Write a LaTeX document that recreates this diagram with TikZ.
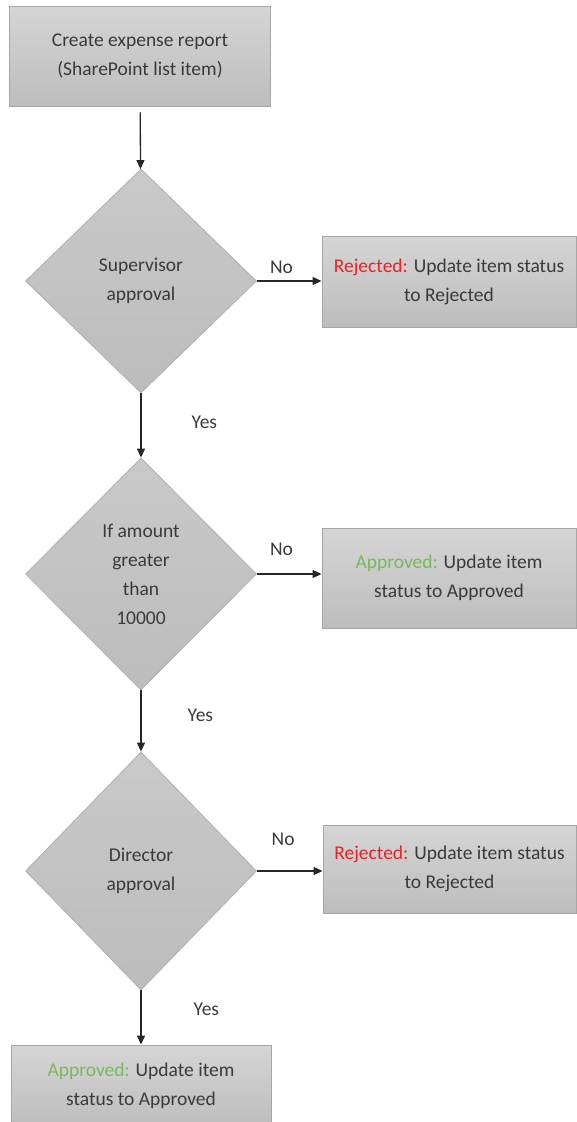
\documentclass[tikz,border=0pt]{standalone}
\usepackage{fontspec}
\setmainfont{Carlito}
\usepackage{tikz}
\usetikzlibrary{arrows.meta,positioning,shapes.geometric}
\usepackage{xcolor}
\definecolor{boxtop}{HTML}{D5D5D5}
\definecolor{boxbot}{HTML}{BDBDBD}
\definecolor{boxedge}{HTML}{A6A6A6}
\definecolor{dectop}{HTML}{C9C9C9}
\definecolor{decbot}{HTML}{BCBCBC}
\definecolor{decedge}{HTML}{B0B0B0}
\definecolor{inktext}{HTML}{3A3A3A}
\definecolor{rejred}{HTML}{E52328}
\definecolor{apprgreen}{HTML}{7AB85C}

\begin{document}
\begin{tikzpicture}[x=1pt,y=-1pt,>={Triangle[length=9pt,width=8pt]},
  every node/.style={font=\fontsize{19.5}{29}\selectfont,text=inktext},
  box/.style={draw=boxedge,line width=0.9pt,top color=boxtop,bottom color=boxbot,align=center,inner sep=0pt},
  decision/.style={diamond,draw=decedge,line width=0.8pt,top color=dectop,bottom color=decbot,align=center,inner sep=0pt,minimum width=231pt},
  lbl/.style={inner sep=0pt},
  flow/.style={->,draw=black!85,line width=1.3pt}]
  \useasboundingbox (0,0) rectangle (576,1122);
  \node[box,minimum width=261pt,minimum height=100pt] (report) at (140,56) {Create expense report\\(SharePoint list item)};
  \node[decision,minimum height=224pt] (superv) at (141,281) {Supervisor\\approval};
  \node[box,minimum width=254pt,minimum height=91pt] (rejA) at (449,281.5) {\textcolor{rejred}{Rejected:} Update item status\\to Rejected};
  \node[decision,minimum height=232pt] (amount) at (141,574) {If amount\\greater\\than\\10000};
  \node[box,minimum width=254pt,minimum height=100pt] (apprA) at (449,578) {\textcolor{apprgreen}{Approved:} Update item\\status to Approved};
  \node[decision,minimum height=238pt] (director) at (141,871) {Director\\approval};
  \node[box,minimum width=253pt,minimum height=88pt] (rejB) at (449.5,869) {\textcolor{rejred}{Rejected:} Update item status\\to Rejected};
  \node[box,minimum width=260pt,minimum height=82pt] (apprB) at (141,1086) {\textcolor{apprgreen}{Approved:} Update item\\status to Approved};
  % main line
  \draw[flow,shorten <=6pt] (report) -- (superv);
  \draw[flow] (superv) -- (amount) node[lbl,pos=0.45,right=50pt] (yesA) {Yes};
  \draw[flow] (amount) -- (director) node[lbl,pos=0.4,right=46pt] (yesB) {Yes};
  \draw[flow] (director) -- (apprB) node[lbl,pos=0.35,right=52pt] (yesC) {Yes};
  % side branches
  \draw[flow] (superv.east) -- (superv.east -| rejA.west) node[lbl,pos=0.38,above=7pt] (noA) {No};
  \draw[flow] (amount.east) -- (amount.east -| apprA.west) node[lbl,pos=0.38,above=18pt] (noB) {No};
  \draw[flow] (director.east) -- (director.east -| rejB.west) node[lbl,pos=0.4,above=25pt] (noC) {No};
\end{tikzpicture}
\end{document}
